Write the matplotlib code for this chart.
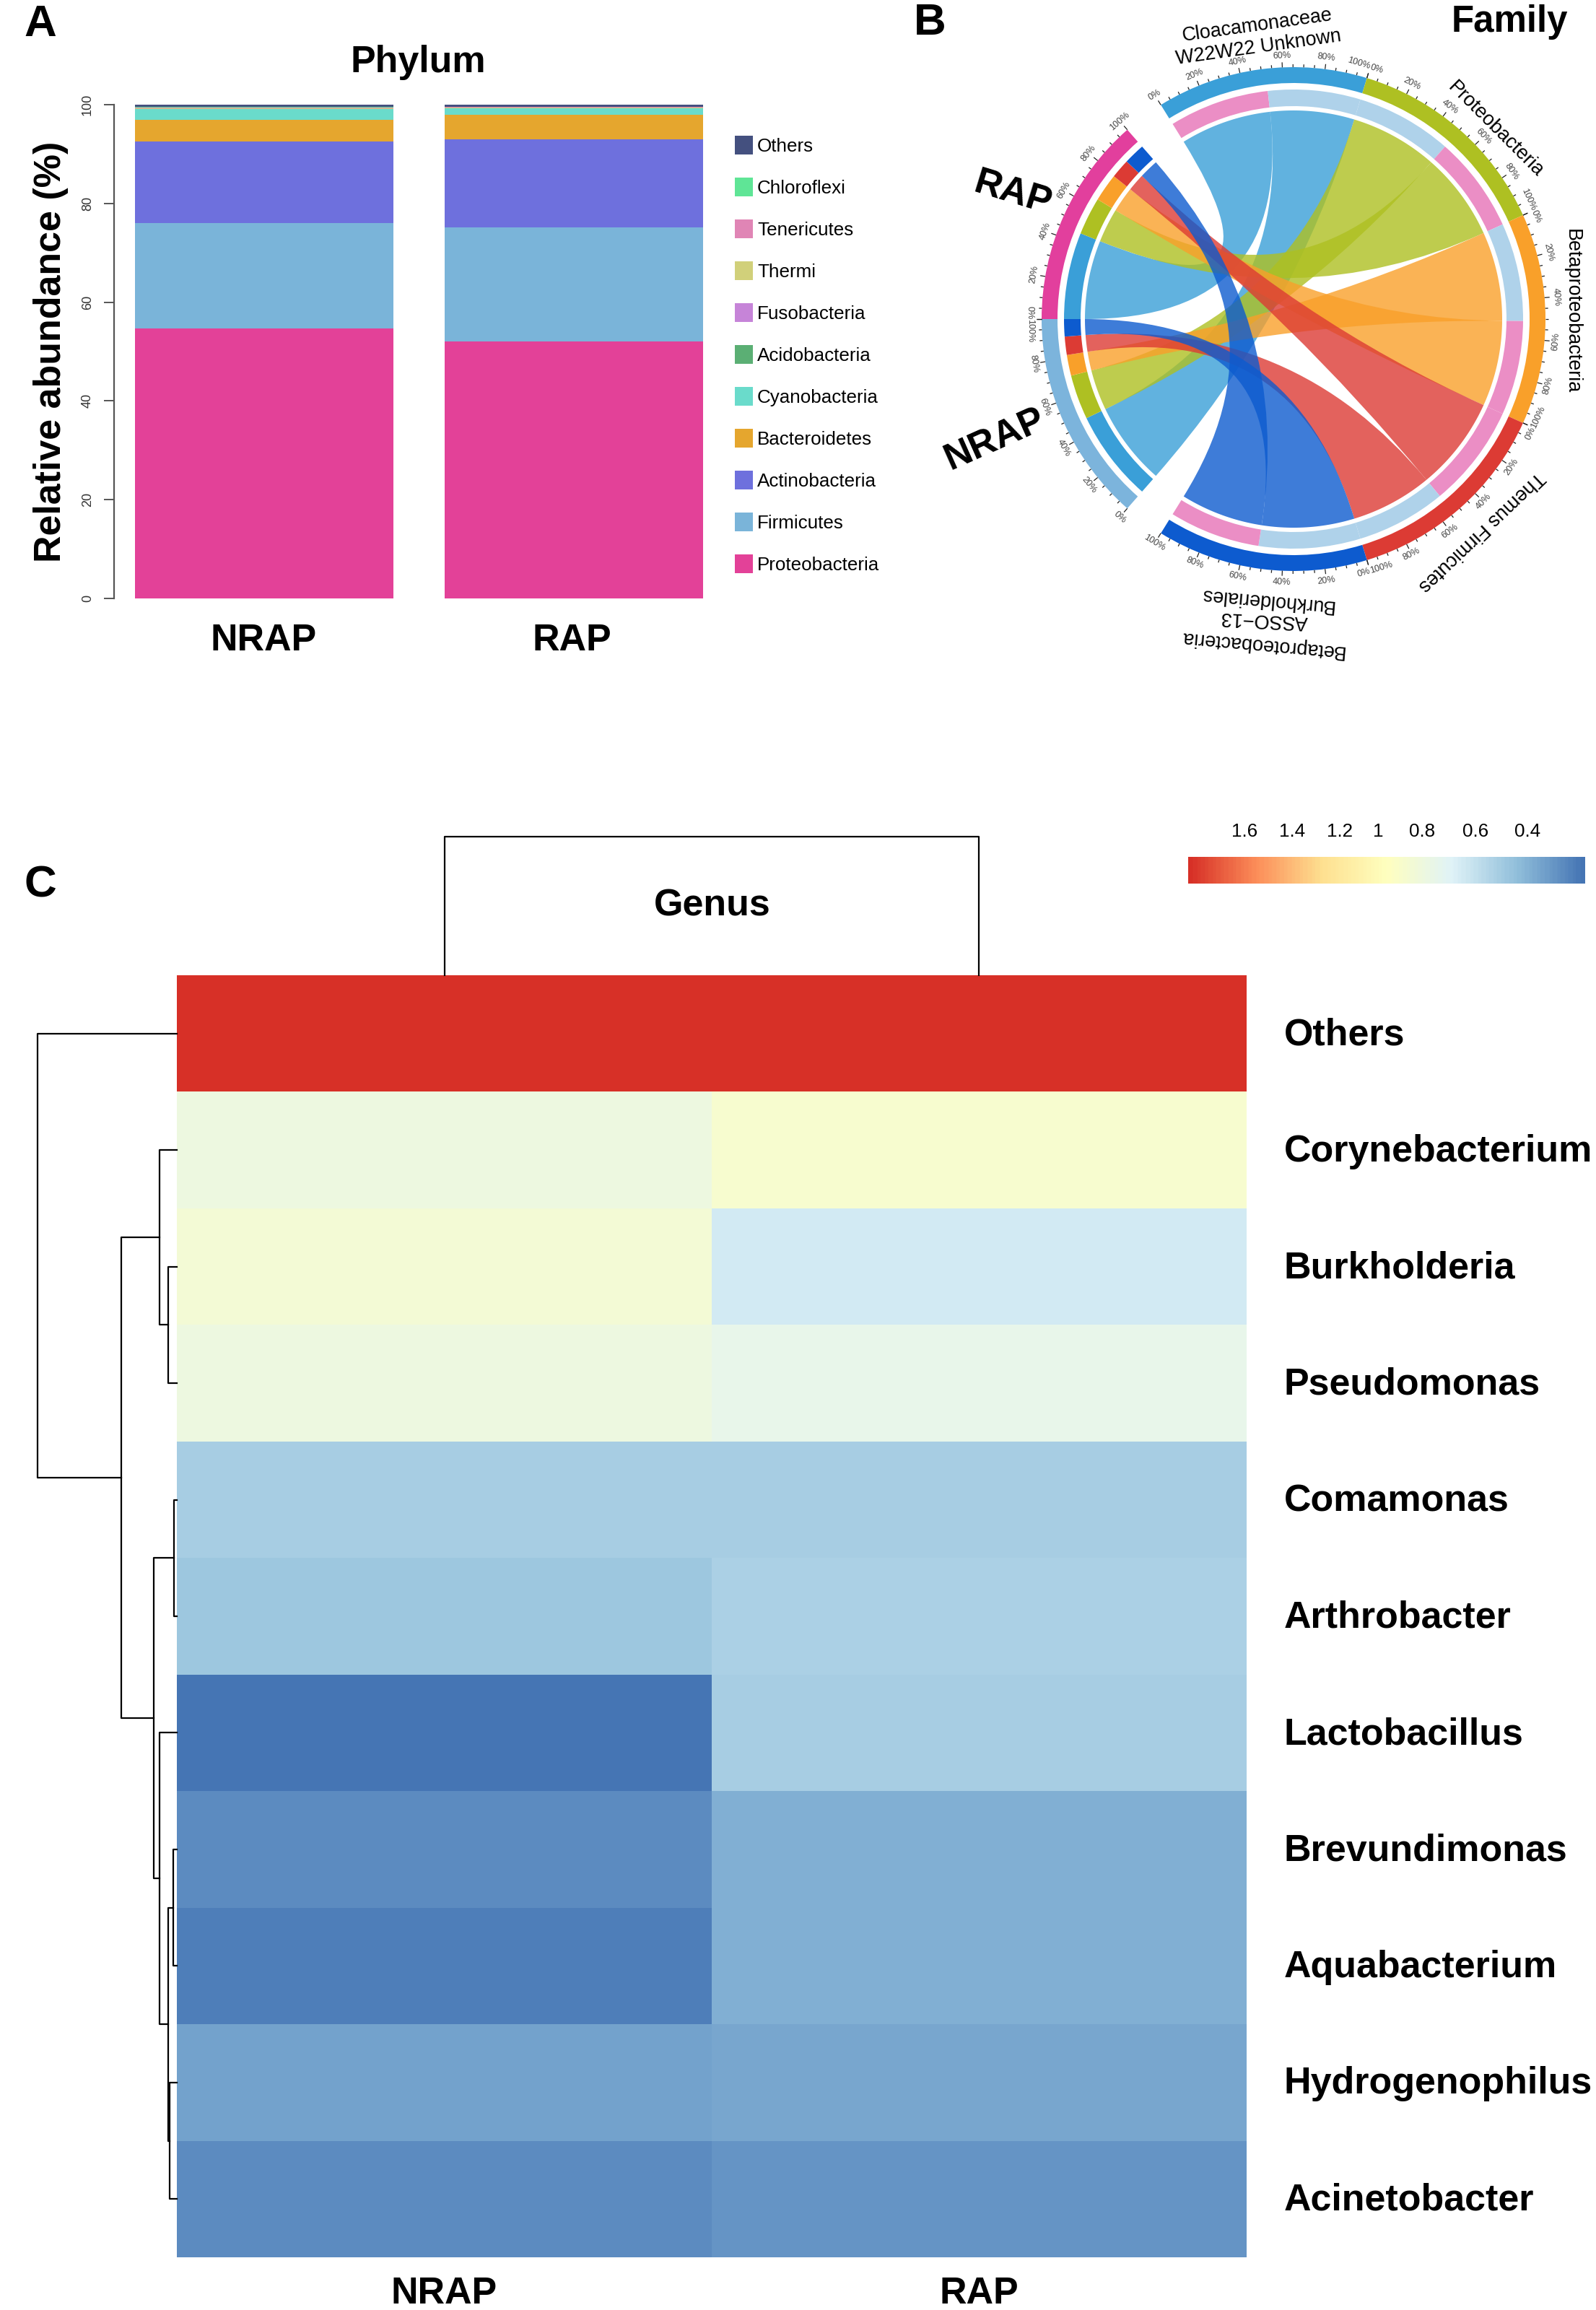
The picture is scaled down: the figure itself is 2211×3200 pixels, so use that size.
import numpy as np
import matplotlib
matplotlib.use("Agg")
import matplotlib.pyplot as plt
from matplotlib.patches import PathPatch, Wedge, Rectangle
from matplotlib.path import Path
from matplotlib.colors import LinearSegmentedColormap, Normalize

plt.rcParams['font.family'] = ['Liberation Sans', 'DejaVu Sans']

W, H = 2211, 3200
PX = 0.72  # px to pt at dpi 100

# ---------- Panel A data ----------
groups_a = ["NRAP", "RAP"]
phyla = ["Proteobacteria", "Firmicutes", "Actinobacteria", "Bacteroidetes", "Cyanobacteria",
         "Acidobacteria", "Fusobacteria", "Thermi", "Tenericutes", "Chloroflexi", "Others"]
phyla_colors = ["#E34198", "#7AB4D9", "#6E70DD", "#E5A62E", "#6ADBCB",
                "#5BAF74", "#C684D8", "#D1D07A", "#E085B5", "#5FE596", "#44507F"]
nrap_phyla = [54.7, 21.3, 16.6, 4.4, 2.05, 0.05, 0.05, 0.1, 0.1, 0.15, 0.5]
rap_phyla = [52.1, 23.1, 17.85, 4.95, 1.2, 0.05, 0.05, 0.1, 0.1, 0.1, 0.4]
yticks_a = [0, 20, 40, 60, 80, 100]

# ---------- Panel B data ----------
sector_colors = {"NRAP": "#7CB4DC", "RAP": "#E23F9D", "Cloaca": "#3A9FD8", "Proteo": "#AEC022",
                 "Beta": "#F9A02A", "Themus": "#DC3B34", "Burk": "#0D5BCF"}
gap_deg = 9.5
targets = ["Cloaca", "Proteo", "Beta", "Themus", "Burk"]
# share (%) of each target within the two sample sectors
nrap_shares = [47.5, 23.2, 10.8, 9.5, 9.0]
rap_shares = [45.0, 19.5, 14.5, 10.0, 11.0]
# sample coming first (clockwise) in each target sector, and its share (%)
target_first = {"Cloaca": ("RAP", 52.0), "Proteo": ("NRAP", 50.0), "Beta": ("NRAP", 51.0),
                "Themus": ("RAP", 53.5), "Burk": ("NRAP", 52.8)}
sample_light = {"NRAP": "#AFD2EA", "RAP": "#EB8EC5"}

# ---------- Panel C data ----------
genera = ["Others", "Corynebacterium", "Burkholderia", "Pseudomonas", "Comamonas", "Arthrobacter",
          "Lactobacillus", "Brevundimonas", "Aquabacterium", "Hydrogenophilus", "Acinetobacter"]
nrap_genus = [1.83, 0.83, 0.884, 0.839, 0.514, 0.479, 0.155, 0.241, 0.192, 0.333, 0.251]
rap_genus = [1.83, 0.91, 0.67, 0.785, 0.514, 0.526, 0.517, 0.385, 0.371, 0.349, 0.27]
cbar_tick_labels = ["1.6", "1.4", "1.2", "1", "0.8", "0.6", "0.4"]
heat_palette = ["#4575B4", "#91BFDB", "#E0F3F8", "#FFFFBF", "#FEE090", "#FC8D59", "#D73027"]
# row tree: (node a, node b, height); leaf ids 0-10, new nodes from 11
row_merges = [(2, 3, 12), (1, 11, 24), (4, 5, 4), (9, 10, 10), (7, 8, 5), (15, 14, 12),
              (6, 16, 24), (13, 17, 32), (12, 18, 77), (0, 19, 193)]
col_tree_height = 192


def ax_px(x0, y0, x1, y1, **kw):
    return fig.add_axes([x0 / W, 1 - y1 / H, (x1 - x0) / W, (y1 - y0) / H], **kw)


fig = plt.figure(figsize=(W / 100, H / 100), dpi=100, facecolor="white")
over = ax_px(0, 0, W, H)
over.set_xlim(0, W)
over.set_ylim(H, 0)
over.axis("off")


def T(x, y, s, px=26, weight="normal", rot=0, color="black", ha="center", va="center"):
    if rot == 0:
        y = y + 0.08 * px
    over.text(x, y, s, fontsize=px * PX, fontweight=weight, rotation=rot, color=color,
              ha=ha, va=va, rotation_mode="anchor")


# ---------- Panel A ----------
T(56, 30, "A", 62, "bold")
T(579, 82, "Phylum", 52, "bold")
axa = ax_px(158, 145, 1000, 829)
axa.set_xlim(158, 1000)
axa.set_ylim(0, 100)
bar_x = [365.5, 795]
bar_w = 358
for gx, vals in zip(bar_x, [nrap_phyla, rap_phyla]):
    bottom = 0
    for v, c in zip(vals, phyla_colors):
        axa.bar(gx, v, bottom=bottom, width=bar_w, color=c, linewidth=0)
        bottom += v
for s in ["top", "right", "bottom"]:
    axa.spines[s].set_visible(False)
axa.spines["left"].set_color("#555555")
axa.spines["left"].set_linewidth(1.6)
axa.patch.set_alpha(0)
axa.set_xticks([])
axa.set_yticks(yticks_a)
axa.tick_params(axis="y", length=14 * PX, width=1.4, color="#555555", pad=10)
axa.set_yticklabels(yticks_a, rotation=90, va="center", fontsize=18 * PX, color="#333333")
T(71, 487, "Relative abundance (%)", 52, "bold", rot=90)
T(365, 883, groups_a[0], 52, "bold")
T(792, 883, groups_a[1], 52, "bold")
leg_y = np.linspace(201, 781, 11)
for y, name, c in zip(leg_y, phyla[::-1], phyla_colors[::-1]):
    over.add_patch(Rectangle((1018, y - 13), 25, 26, color=c, lw=0))
    T(1049, y, name, 26, ha="left")

# ---------- Panel B ----------
T(1288, 28, "B", 62, "bold")
T(2091, 26, "Family", 51, "bold")
CX, CY = 1792, 442
axb = ax_px(CX - 440, CY - 440, CX + 440, CY + 440)
axb.set_xlim(-440, 440)
axb.set_ylim(-440, 440)
axb.axis("off")
axb.patch.set_alpha(0)

R_OUT, R_OUT_IN, R_IN, R_IN_IN, R_LINK = 349, 327, 318, 295, 289
deg_per = (360 - 2 * gap_deg) / 7
starts = {}
ang = 180 + deg_per
order = ["NRAP", "RAP", None, "Cloaca", "Proteo", "Beta", "Themus", "Burk", None]
for s in order:
    if s is None:
        ang -= gap_deg
    else:
        starts[s] = ang
        ang -= deg_per


def a_of(sec, pct):
    return starts[sec] - pct / 100 * deg_per


def band(sec, p0, p1, r0, r1, color):
    t1, t0 = a_of(sec, p0), a_of(sec, p1)
    axb.add_patch(Wedge((0, 0), r1, t0, t1, width=r1 - r0, facecolor=color, edgecolor="none"))


def pol(r, deg):
    t = np.deg2rad(deg)
    return r * np.cos(t), r * np.sin(t)


def ribbon(sec_a, a0, a1, sec_b, b0, b1, color):
    A = np.linspace(a_of(sec_a, a0), a_of(sec_a, a1), 30)
    B = np.linspace(a_of(sec_b, b0), a_of(sec_b, b1), 30)
    verts = [pol(R_LINK, d) for d in A]
    codes = [Path.MOVETO] + [Path.LINETO] * 29
    verts += [(0, 0), pol(R_LINK, B[0])]
    codes += [Path.CURVE3, Path.CURVE3]
    verts += [pol(R_LINK, d) for d in B[1:]]
    codes += [Path.LINETO] * 29
    verts += [(0, 0), pol(R_LINK, A[0])]
    codes += [Path.CURVE3, Path.CURVE3]
    axb.add_patch(PathPatch(Path(verts, codes), facecolor=color, edgecolor="none", alpha=0.8))


gap_edges = {("NRAP", 0), ("RAP", 100), ("Cloaca", 0), ("Burk", 100)}
for sec in starts:
    band(sec, 0, 100, R_OUT_IN, R_OUT, sector_colors[sec])
    for pct in range(0, 101, 5):
        d = a_of(sec, pct)
        L = 7 if pct % 20 == 0 else 4
        x0, y0 = pol(R_OUT, d)
        x1, y1 = pol(R_OUT + L, d)
        axb.plot([x0, x1], [y0, y1], color="#222222", lw=0.9, solid_capstyle="butt")
    for pct in range(0, 101, 20):
        d = a_of(sec, pct)
        x, y = pol(R_OUT + 16, d)
        norm_d = (d + 360) % 360
        upper = 0 <= norm_d < 180
        rot = d - 90 if upper else d + 90
        ha = "center"
        if pct in (0, 100) and (sec, pct) not in gap_edges:
            first_edge = pct == 0
            ha = "left" if first_edge == upper else "right"
        axb.text(x, y, f"{pct}%", fontsize=12.5 * PX, color="#444444", rotation=rot,
                 ha=ha, va="center", rotation_mode="anchor")

ribbon_data = {}
for sample, shares in (("NRAP", nrap_shares), ("RAP", rap_shares)):
    pos = 0
    for tgt, sh in zip(targets, shares):
        band(sample, pos, pos + sh, R_IN_IN, R_IN, sector_colors[tgt])
        ribbon_data[(sample, tgt)] = (pos, pos + sh)
        pos += sh

for tgt in targets:
    first, share = target_first[tgt]
    second = "RAP" if first == "NRAP" else "NRAP"
    band(tgt, 0, share, R_IN_IN, R_IN, sample_light[first])
    band(tgt, share, 100, R_IN_IN, R_IN, sample_light[second])
    for sample, (b0, b1) in ((first, (0, share)), (second, (share, 100))):
        a0, a1 = ribbon_data[(sample, tgt)]
        ribbon(sample, a0, a1, tgt, b0, b1, sector_colors[tgt])

T(1742, 35, "Cloacamonaceae", 27, rot=8)
T(1743, 66, "W22W22 Unknown", 27, rot=8)
T(2072, 179, "Proteobacteria", 27, rot=-45)
T(2178, 431, "Betaproteobacteria", 27, rot=-90)
T(2052, 736, "Themus Firmicutes", 27, rot=223.5)
T(1754, 831, "Burkholderiales", 27, rot=175)
T(1751, 858, "ASSO\u221213", 27, rot=177)
T(1748, 892, "Betaproteobacteria", 27, rot=175)
T(1403, 268, "RAP", 52, "bold", rot=-17)
T(1378, 609, "NRAP", 52, "bold", rot=24)

# ---------- Panel C ----------
T(56, 1222, "C", 62, "bold")
cmap = LinearSegmentedColormap.from_list("pheat", heat_palette, N=100)
vmin, vmax = 0.152, 1.835
norm = Normalize(vmin, vmax)
axh = ax_px(245, 1351, 1727, 3127)
mat = np.array([nrap_genus, rap_genus]).T
axh.pcolormesh(np.arange(3), np.arange(len(genera) + 1), mat, cmap=cmap, norm=norm, linewidth=0)
axh.set_ylim(len(genera), 0)
axh.set_xlim(0, 2)
axh.axis("off")
row_h = (3127 - 1351) / 11
for i, g in enumerate(genera):
    T(1779, 1351 + (i + .5) * row_h - 2, g, 52, "bold", ha="left")
T(615, 3173, "NRAP", 52, "bold")
T(1356, 3173, "RAP", 52, "bold")
T(987, 1251, "Genus", 52, "bold")

# column dendrogram
axc = ax_px(245, 1159, 1727, 1351)
axc.set_xlim(0, 2)
axc.set_ylim(0, col_tree_height)
axc.axis("off")
axc.plot([.5, .5, 1.5, 1.5], [0, col_tree_height, col_tree_height, 0], color="black", lw=1.6, clip_on=False)

# row dendrogram
axd = ax_px(40, 1351, 245, 3127)
axd.set_xlim(205, 0)
axd.set_ylim(len(genera), 0)
axd.axis("off")
nodes = {i: (i + .5, 0) for i in range(len(genera))}
for k, (a, b, h) in enumerate(row_merges):
    ya, ha_ = nodes[a]
    yb, hb = nodes[b]
    axd.plot([ha_, h, h, hb], [ya, ya, yb, yb], color="black", lw=1.6, clip_on=False)
    nodes[11 + k] = ((ya + yb) / 2, h)

# colour bar
axk = ax_px(1646, 1187, 2196, 1224)
grad = np.linspace(vmax, vmin, 256)[None, :]
axk.imshow(grad, cmap=cmap, norm=norm, aspect="auto", extent=[vmax, vmin, 0, 1])
axk.axis("off")
for xp, lab in zip([1724, 1790, 1856, 1909, 1970, 2044, 2116], cbar_tick_labels):
    T(xp, 1150, lab, 26)

fig.savefig("out.png", dpi=100, facecolor="white")
